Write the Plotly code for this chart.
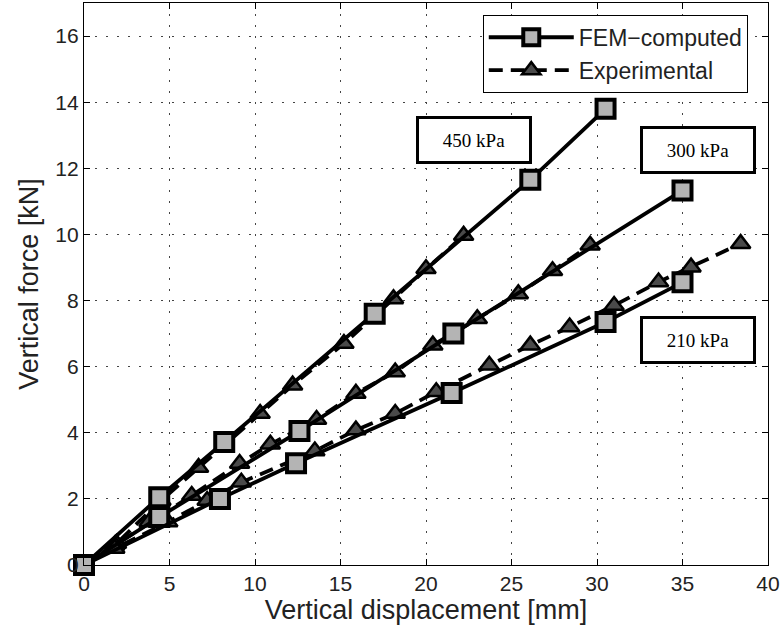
import plotly.graph_objects as go

# ---- data ----
fem_450_x = [0, 4.4, 8.2, 17.0, 26.1, 30.5]
fem_450_y = [0, 2.05, 3.72, 7.6, 11.65, 13.8]
fem_300_x = [0, 4.4, 12.6, 21.6, 35.0]
fem_300_y = [0, 1.45, 4.05, 7.0, 11.33]
fem_210_x = [0, 7.95, 12.4, 21.5, 30.5, 35.0]
fem_210_y = [0, 2.0, 3.08, 5.2, 7.35, 8.55]

exp_450_x = [0, 1.9, 4.5, 6.7, 10.3, 12.2, 15.2, 18.1, 20.0, 22.2]
exp_450_y = [0, 0.65, 1.95, 2.95, 4.58, 5.44, 6.7, 8.05, 8.96, 9.97]
exp_300_x = [0, 1.8, 3.8, 6.3, 9.1, 10.9, 13.6, 15.9, 18.2, 20.4, 23.0, 25.4, 27.4, 29.6]
exp_300_y = [0, 0.6, 1.3, 2.1, 3.07, 3.65, 4.4, 5.19, 5.84, 6.65, 7.45, 8.2, 8.9, 9.67]
exp_210_x = [0, 1.8, 4.9, 7.2, 9.2, 13.5, 15.9, 18.2, 20.6, 23.7, 26.1, 28.4, 31.0, 33.6, 35.5, 38.4]
exp_210_y = [0, 0.5, 1.3, 1.95, 2.5, 3.45, 4.08, 4.58, 5.24, 6.04, 6.65, 7.2, 7.85, 8.56, 9.01, 9.72]

labels = ["450 kPa", "300 kPa", "210 kPa"]
label_x = [22.8, 35.9, 35.9]
label_y = [12.87, 12.54, 6.8]

x_ticks = [0, 5, 10, 15, 20, 25, 30, 35, 40]
y_ticks = [0, 2, 4, 6, 8, 10, 12, 14, 16]

fig = go.Figure()

exp_sets = [(exp_450_x, exp_450_y), (exp_300_x, exp_300_y), (exp_210_x, exp_210_y)]
fem_sets = [(fem_450_x, fem_450_y), (fem_300_x, fem_300_y), (fem_210_x, fem_210_y)]

for i, (xs, ys) in enumerate(exp_sets):
    fig.add_trace(go.Scatter(
        x=xs, y=ys, mode="lines+markers", name="Experimental",
        legendgroup="exp", showlegend=(i == 0), legendrank=2,
        line=dict(color="black", width=3.8, dash="14px,8px"),
        marker=dict(symbol="triangle-up", size=17, color="#4a4a4a",
                    line=dict(color="black", width=2.5)),
        cliponaxis=False,
    ))

for i, (xs, ys) in enumerate(fem_sets):
    fig.add_trace(go.Scatter(
        x=xs, y=ys, mode="lines+markers", name="FEM\u2212computed",
        legendgroup="fem", showlegend=(i == 0), legendrank=1,
        line=dict(color="black", width=3.8),
        marker=dict(symbol="square", size=18, color="#b4b4b4",
                    line=dict(color="black", width=4)),
        cliponaxis=False,
    ))

for t, lx, ly in zip(labels, label_x, label_y):
    fig.add_annotation(
        x=lx, y=ly, xref="x", yref="y", text=t, showarrow=False,
        font=dict(family="Liberation Serif", size=19, color="black"),
        width=110, height=42, borderwidth=3, borderpad=0,
        bordercolor="black", bgcolor="white", align="center", valign="middle",
    )

axis_common = dict(
    showline=True, linecolor="black", linewidth=1.2, mirror="ticks",
    ticks="inside", ticklen=6, tickcolor="black", tickwidth=1,
    showgrid=True, gridcolor="#444", gridwidth=1, griddash="2px,9px",
    zeroline=False,
    tickfont=dict(family="Liberation Sans", size=21, color="#222"),
    title_font=dict(family="Liberation Sans", size=27, color="#222"),
)

fig.update_xaxes(range=[0, 40], tickvals=x_ticks, ticktext=[str(v) for v in x_ticks],
                 title_text="Vertical displacement [mm]", title_standoff=4, **axis_common)
fig.update_yaxes(range=[0, 17], tickvals=y_ticks, ticktext=[str(v) for v in y_ticks],
                 title_text="Vertical force [kN]", title_standoff=8, **axis_common)

fig.update_layout(
    width=782, height=635,
    margin=dict(l=84, r=14, t=3, b=70),
    plot_bgcolor="white", paper_bgcolor="white",
    legend=dict(x=0.583, y=0.979, xanchor="left", yanchor="top",
                bgcolor="white", bordercolor="black", borderwidth=1,
                font=dict(family="Liberation Sans", size=23, color="#222"),
                itemwidth=85, tracegroupgap=0),
    showlegend=True,
)

fig.write_html("out.html")
